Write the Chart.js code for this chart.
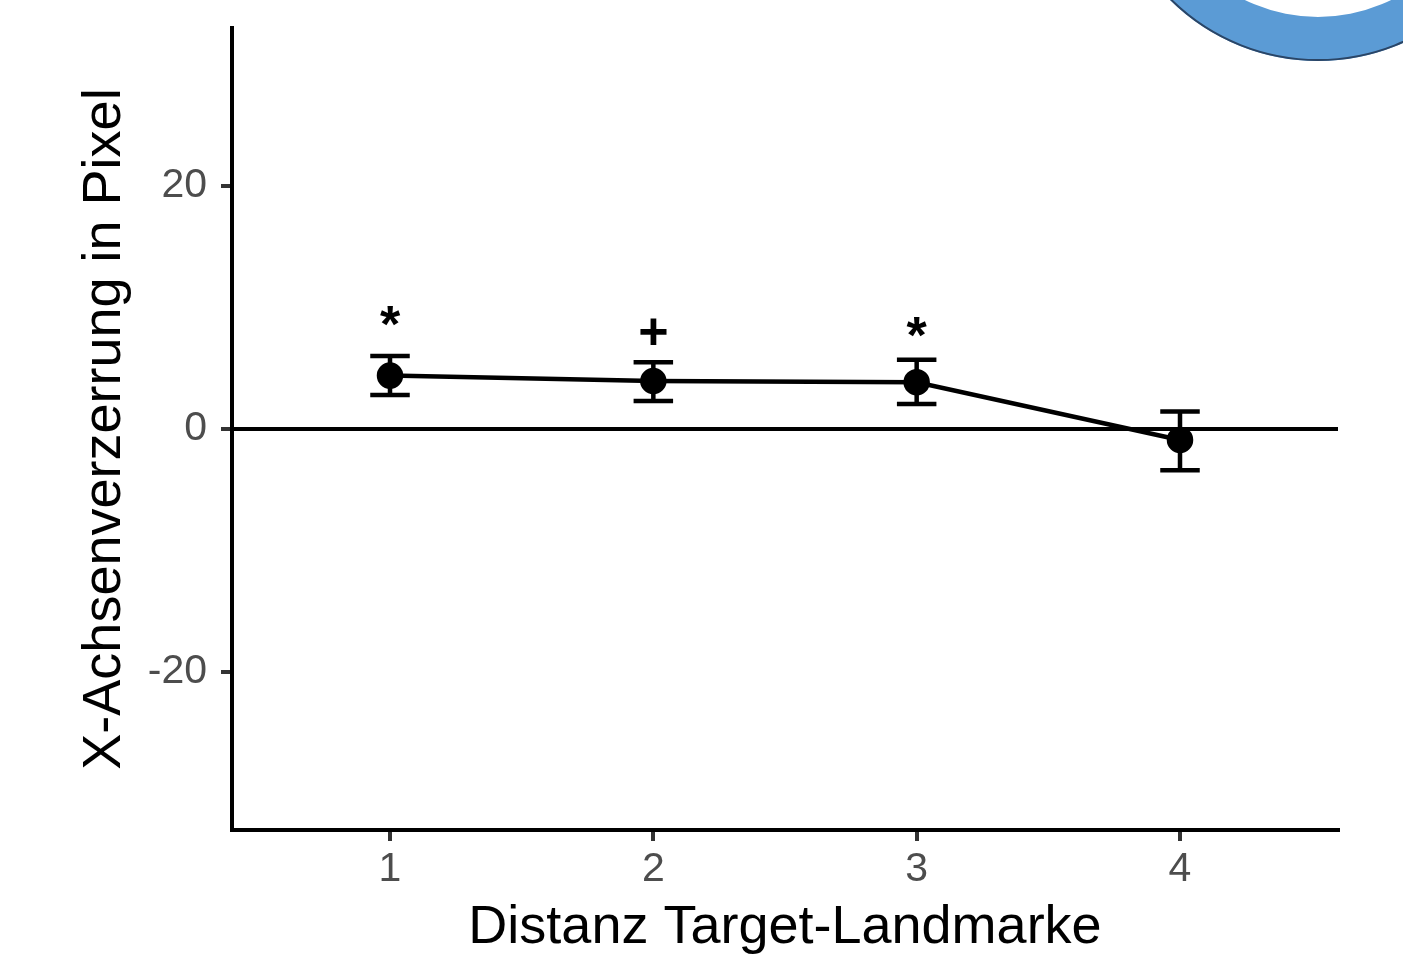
<!DOCTYPE html>
<html>
<head>
<meta charset="utf-8">
<title>X-Achsenverzerrung</title>
<script src="https://cdn.jsdelivr.net/npm/chart.js@4.4.0/dist/chart.umd.min.js"></script>
<style>
  html, body { margin: 0; padding: 0; background: #fff; }
  #wrap { width: 1403px; height: 955px; position: relative; }
</style>
</head>
<body>
<div id="wrap"><canvas id="myChart"></canvas></div>
<script>
// data
const distances = [1, 2, 3, 4];
const meanShift = [4.4, 3.95, 3.85, -0.9];
const lowerCI = [2.8, 2.3, 2.05, -3.4];
const upperCI = [6.0, 5.5, 5.7, 1.45];
const marks = ['*', '+', '*', ''];
const markY = [8.35, 7.75, 7.4, 0];
const xTicks = [1, 2, 3, 4];
const yTicks = [-20, 0, 20];
const xRange = [0.4, 4.6];
const yRange = [-33, 33];

const font = 'Liberation Sans, Arial, Helvetica, sans-serif';

// error bars and significance marks
const errorBars = {
    id: 'errorBars',
    beforeDatasetsDraw(chart) {
        const ctx = chart.ctx;
        const xs = chart.scales.x, ys = chart.scales.y;
        const half = 0.075;
        ctx.save();
        ctx.strokeStyle = '#000';
        ctx.lineWidth = 4.5;
        distances.forEach(function(d, i) {
            const x = xs.getPixelForValue(d);
            const xl = xs.getPixelForValue(d - half);
            const xr = xs.getPixelForValue(d + half);
            const yl = ys.getPixelForValue(lowerCI[i]);
            const yh = ys.getPixelForValue(upperCI[i]);
            ctx.beginPath();
            ctx.moveTo(x, yl); ctx.lineTo(x, yh);
            ctx.moveTo(xl, yl); ctx.lineTo(xr, yl);
            ctx.moveTo(xl, yh); ctx.lineTo(xr, yh);
            ctx.stroke();
        });
        ctx.restore();
    },
    afterDatasetsDraw(chart) {
        const ctx = chart.ctx;
        const xs = chart.scales.x, ys = chart.scales.y;
        ctx.save();
        ctx.fillStyle = '#000';
        ctx.textAlign = 'center';
        ctx.textBaseline = 'middle';
        ctx.font = 'bold 52px ' + font;
        marks.forEach(function(m, i) {
            if (!m) return;
            ctx.fillText(m, xs.getPixelForValue(distances[i]), ys.getPixelForValue(markY[i]));
        });
        ctx.restore();
    }
};

// blue ring partly visible in the top right corner of the slide
const cornerRing = {
    id: 'cornerRing',
    afterDraw(chart) {
        const ctx = chart.ctx;
        ctx.save();
        ctx.beginPath();
        ctx.arc(1318, -149, 210, 0, Math.PI * 2);
        ctx.arc(1318, -149, 166, 0, Math.PI * 2, true);
        ctx.fillStyle = '#5B9BD5';
        ctx.fill();
        ctx.beginPath();
        ctx.arc(1318, -149, 209, 0, Math.PI);
        ctx.strokeStyle = '#2A4566';
        ctx.lineWidth = 2;
        ctx.stroke();
        ctx.restore();
    }
};

const ctx = document.getElementById('myChart').getContext('2d');
const points = distances.map((d, i) => ({ x: d, y: meanShift[i] }));

new Chart(ctx, {
    type: 'line',
    data: {
        datasets: [{
            data: [{ x: xRange[0], y: 0 }, { x: xRange[1], y: 0 }],
            borderColor: '#000',
            borderWidth: 4,
            pointRadius: 0,
            order: 2
        }, {
            data: points,
            borderColor: '#000',
            backgroundColor: '#000',
            borderWidth: 4.5,
            pointRadius: 11,
            pointHoverRadius: 11,
            tension: 0,
            order: 1
        }]
    },
    options: {
        responsive: true,
        maintainAspectRatio: false,
        animation: false,
        layout: { padding: { top: 28, right: 65, left: 0, bottom: 0 } },
        plugins: {
            legend: { display: false },
            tooltip: { enabled: false }
        },
        scales: {
            x: {
                type: 'linear',
                min: xRange[0],
                max: xRange[1],
                afterBuildTicks: function(s) { s.ticks = xTicks.map(v => ({ value: v })); },
                afterFit: function(s) { s.height = 125; s.paddingLeft = 0; s.paddingRight = 0; },
                border: { display: true, color: '#000', width: 4 },
                grid: { drawOnChartArea: false, drawTicks: true, tickLength: 11, color: '#333', lineWidth: 4 },
                ticks: { color: '#4D4D4D', font: { family: font, size: 41 }, padding: 4, maxRotation: 0 },
                title: {
                    display: true,
                    text: 'Distanz Target-Landmarke',
                    color: '#000',
                    font: { family: font, size: 54, lineHeight: 1 },
                    padding: { top: 0, bottom: 0 }
                }
            },
            y: {
                min: yRange[0],
                max: yRange[1],
                afterBuildTicks: function(s) { s.ticks = yTicks.map(v => ({ value: v })); },
                afterFit: function(s) { s.width = 232; s.paddingTop = 0; s.paddingBottom = 0; },
                border: { display: true, color: '#000', width: 4 },
                grid: { drawOnChartArea: false, drawTicks: true, tickLength: 11, color: '#333', lineWidth: 4 },
                ticks: { color: '#4D4D4D', font: { family: font, size: 41 }, padding: 14 },
                title: {
                    display: true,
                    text: 'X-Achsenverzerrung in Pixel',
                    color: '#000',
                    font: { family: font, size: 54, lineHeight: 1 },
                    padding: { top: 78, bottom: 0 }
                }
            }
        }
    },
    plugins: [errorBars, cornerRing]
});
</script>
</body>
</html>
